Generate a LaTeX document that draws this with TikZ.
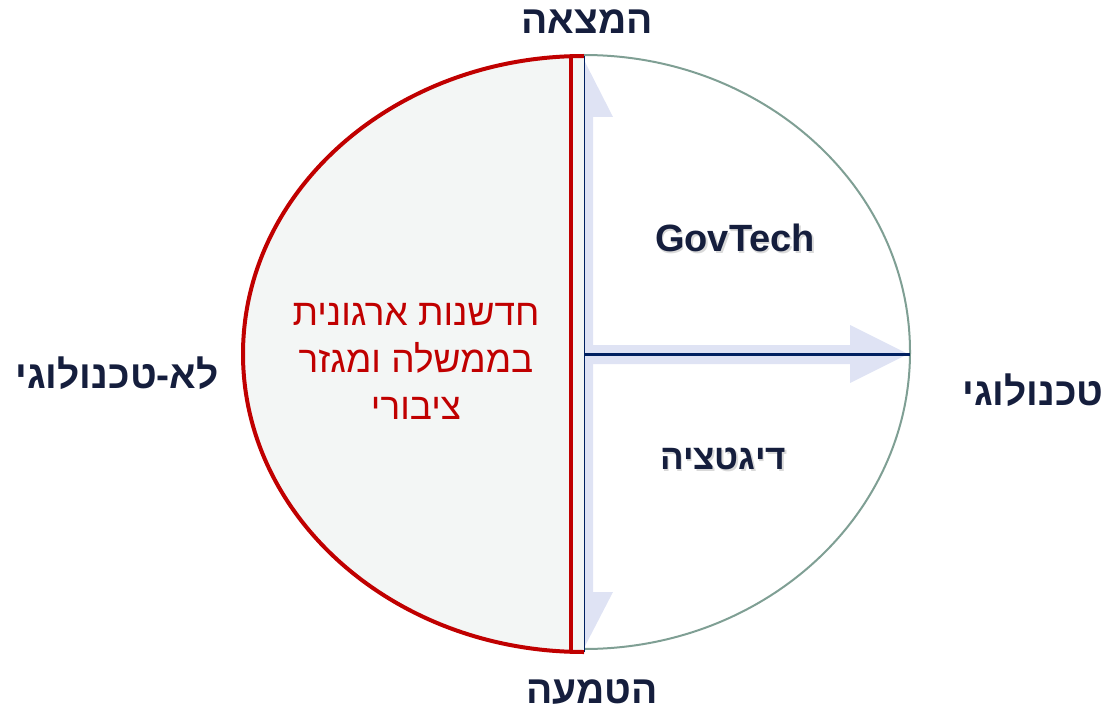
\documentclass[tikz,border=0pt]{standalone}
\usepackage{fontspec}
\usepackage{xcolor}
\usepackage{tikz}
\setmainfont{Liberation Sans}
\newfontfamily\hebfont[Script=Hebrew]{Liberation Sans}
\TeXXeTstate=1
\usetikzlibrary{positioning,calc}

\definecolor{navytext}{HTML}{151E3D}
\definecolor{navyline}{HTML}{002060}
\definecolor{innored}{HTML}{C00000}
\definecolor{arrowfill}{HTML}{DFE3F4}
\definecolor{halffill}{HTML}{F3F6F5}
\definecolor{rimgray}{HTML}{7F9F94}

\begin{document}
\begin{tikzpicture}[x=1pt,y=-1pt,
    axislabel/.style={text=navytext, font=\hebfont\bfseries\fontsize{39}{44}\selectfont},
    quadlabel/.style={text=navytext, font=\bfseries\fontsize{38}{44}\selectfont},
    quadshadow/.style={text=gray!30, font=\bfseries\fontsize{38}{44}\selectfont}]
        \useasboundingbox (0,0) rectangle (1110,714);

        % light arrows (left half hidden by the grey half)
        \fill[arrowfill] (575,117) -- (555,117) -- (584,60) -- (613,117) -- (593,117)
            -- (593,592) -- (613,592) -- (584,648) -- (555,592) -- (575,592) -- cycle;
        \fill[arrowfill] (585,345) -- (850,345) -- (850,325) -- (908,354)
            -- (850,383) -- (850,364) -- (585,364) -- cycle;

        % non-technological half
        \fill[halffill] (584,56) arc[start angle=270, end angle=90, x radius=341, y radius=298] -- cycle;
        \draw[innored, line width=4pt] (584,56) arc[start angle=270, end angle=90, x radius=341, y radius=298];
        \draw[innored, line width=3.5pt] (571,58) -- (571,652);

        % technological half
        \draw[rimgray, line width=2pt] (584,55) arc[start angle=-90, end angle=90, x radius=326, y radius=297];

        % axes
        \coordinate (top) at (584.5,56);
        \coordinate (bottom) at (584.5,652);
        \coordinate (origin) at (584.5,354);
        \coordinate (rim) at (910,354);
        \draw[navyline, line width=1.6pt] (top) -- (bottom);
        \draw[navyline, line width=3pt] (origin) -- (rim);

        % axis labels
        \node[axislabel] (invent) at (587,22) {\beginR המצאה\endR};
        \node[axislabel] (adopt) at (592,692) {\beginR הטמעה\endR};
        \node[axislabel] (nontech) at (117,373) {\beginR לא-טכנולוגי\endR};
        \node[axislabel] (tech) at (1033,390) {\beginR טכנולוגי\endR};

        % quadrants
        \node[quadshadow] (govshadow) at (736.5,239.5) {GovTech};
        \node[quadlabel] (govtech) at (735,238) {GovTech};
        \node[quadshadow, font=\hebfont\bfseries\fontsize{35}{40}\selectfont] (digshadow) at (724.5,460.5) {\beginR דיגטציה\endR};
        \node[quadlabel, font=\hebfont\bfseries\fontsize{35}{40}\selectfont] (digital) at (723,459) {\beginR דיגטציה\endR};
        \node[text=innored, align=center, font=\hebfont\fontsize{37}{47}\selectfont] (orginno) at (416,361)
            {\beginR חדשנות ארגונית\endR\\ \beginR בממשלה ומגזר\endR\\ \beginR ציבורי\endR};
    \end{tikzpicture}
\end{document}
